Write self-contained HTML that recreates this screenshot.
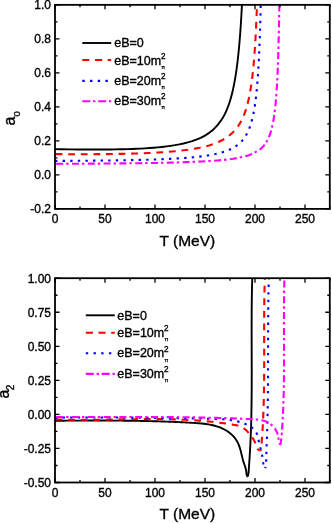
<!DOCTYPE html>
<html><head><meta charset="utf-8"><style>
html,body{margin:0;padding:0;background:#fff;width:332px;height:523px;overflow:hidden}
svg{display:block;will-change:transform}
text{font-family:"Liberation Sans", sans-serif;fill:#000;stroke:#000;stroke-width:0.35px}
</style></head><body>
<svg width="332" height="523" viewBox="0 0 332 523">

<clipPath id="c4"><rect x="55.0" y="4.85" width="274.8" height="204.05"/></clipPath>
<g clip-path="url(#c4)" fill="none" stroke-linejoin="round">
<path d="M55.00,149.17 L59.28,149.24 L63.57,149.31 L67.85,149.37 L72.13,149.42 L76.42,149.47 L80.70,149.51 L84.98,149.54 L89.27,149.55 L93.55,149.56 L97.83,149.56 L102.12,149.54 L106.40,149.51 L110.68,149.47 L114.96,149.40 L119.25,149.32 L123.53,149.23 L127.81,149.10 L132.10,148.96 L136.38,148.78 L140.66,148.58 L144.95,148.34 L149.23,148.06 L153.51,147.74 L157.80,147.36 L162.08,146.93 L166.36,146.43 L170.65,145.85 L174.93,145.18 L179.21,144.40 L183.50,143.48 L187.78,142.41 L192.06,141.14 L196.35,139.63 L200.63,137.81 L204.91,135.59 L209.20,132.84 L213.48,129.39 L217.76,124.93 L222.04,119.00 L222.38,118.45 L222.72,117.89 L223.06,117.30 L223.40,116.71 L223.74,116.10 L224.08,115.47 L224.42,114.82 L224.76,114.15 L225.10,113.47 L225.43,112.77 L225.77,112.04 L226.11,111.30 L226.45,110.53 L226.79,109.74 L227.13,108.92 L227.47,108.08 L227.81,107.21 L228.15,106.32 L228.49,105.39 L228.82,104.44 L229.16,103.45 L229.50,102.43 L229.84,101.37 L230.18,100.28 L230.52,99.15 L230.86,97.98 L231.20,96.76 L231.54,95.50 L231.88,94.19 L232.21,92.83 L232.55,91.41 L232.89,89.94 L233.23,88.41 L233.57,86.81 L233.91,85.15 L234.25,83.41 L234.59,81.60 L234.93,79.70 L235.27,77.71 L235.60,75.64 L235.94,73.46 L236.28,71.17 L236.62,68.76 L236.96,66.23 L237.30,63.57 L237.64,60.76 L237.98,57.79 L238.32,54.66 L238.65,51.33 L238.99,47.80 L239.33,44.05 L239.67,40.06 L240.01,35.81 L240.35,31.26 L240.69,26.38 L241.03,21.15 L241.37,15.51 L241.71,9.43 L242.04,2.85" stroke="#000" stroke-width="1.9"/>
<path d="M55.00,154.12 L59.67,154.15 L64.34,154.17 L69.00,154.19 L73.67,154.21 L78.34,154.21 L83.01,154.21 L87.67,154.21 L92.34,154.19 L97.01,154.17 L101.68,154.14 L106.35,154.09 L111.01,154.04 L115.68,153.97 L120.35,153.89 L125.02,153.80 L129.69,153.69 L134.35,153.56 L139.02,153.41 L143.69,153.24 L148.36,153.04 L153.02,152.82 L157.69,152.56 L162.36,152.27 L167.03,151.94 L171.70,151.56 L176.36,151.13 L181.03,150.63 L185.70,150.06 L190.37,149.40 L195.03,148.64 L199.70,147.74 L204.37,146.68 L209.04,145.42 L213.71,143.90 L218.37,142.05 L223.04,139.74 L227.71,136.79 L232.38,132.93 L237.04,127.64 L237.38,127.18 L237.72,126.71 L238.06,126.22 L238.40,125.73 L238.74,125.21 L239.08,124.68 L239.42,124.14 L239.76,123.58 L240.10,123.00 L240.43,122.41 L240.77,121.80 L241.11,121.17 L241.45,120.51 L241.79,119.84 L242.13,119.15 L242.47,118.43 L242.81,117.68 L243.15,116.92 L243.49,116.12 L243.82,115.30 L244.16,114.44 L244.50,113.55 L244.84,112.63 L245.18,111.68 L245.52,110.68 L245.86,109.65 L246.20,108.57 L246.54,107.45 L246.88,106.28 L247.21,105.06 L247.55,103.78 L247.89,102.44 L248.23,101.04 L248.57,99.57 L248.91,98.03 L249.25,96.42 L249.59,94.71 L249.93,92.92 L250.27,91.03 L250.60,89.02 L250.94,86.91 L251.28,84.66 L251.62,82.27 L251.96,79.73 L252.30,77.02 L252.64,74.12 L252.98,71.02 L253.32,67.68 L253.65,64.09 L253.99,60.20 L254.33,55.99 L254.67,51.41 L255.01,46.40 L255.35,40.91 L255.69,34.86 L256.03,28.16 L256.37,20.69 L256.71,12.31 L257.04,2.85" stroke="#ff0000" stroke-width="2.1" stroke-dasharray="6.8 5.8" stroke-dashoffset="12.0"/>
<path d="M55.00,160.91 L59.76,160.89 L64.53,160.86 L69.29,160.84 L74.05,160.81 L78.82,160.78 L83.58,160.74 L88.34,160.70 L93.11,160.66 L97.87,160.61 L102.63,160.56 L107.40,160.50 L112.16,160.44 L116.92,160.37 L121.69,160.29 L126.45,160.21 L131.21,160.11 L135.98,160.01 L140.74,159.90 L145.50,159.77 L150.27,159.63 L155.03,159.48 L159.79,159.31 L164.56,159.11 L169.32,158.90 L174.08,158.65 L178.85,158.37 L183.61,158.06 L188.37,157.70 L193.14,157.28 L197.90,156.80 L202.66,156.23 L207.43,155.56 L212.19,154.75 L216.95,153.77 L221.71,152.54 L226.48,150.98 L231.24,148.94 L236.00,146.17 L240.77,142.21 L241.11,141.86 L241.45,141.50 L241.78,141.13 L242.12,140.75 L242.46,140.36 L242.80,139.95 L243.14,139.53 L243.48,139.10 L243.82,138.65 L244.16,138.18 L244.50,137.70 L244.84,137.20 L245.17,136.69 L245.51,136.15 L245.85,135.59 L246.19,135.01 L246.53,134.41 L246.87,133.78 L247.21,133.13 L247.55,132.45 L247.89,131.75 L248.23,131.01 L248.56,130.24 L248.90,129.43 L249.24,128.58 L249.58,127.70 L249.92,126.77 L250.26,125.80 L250.60,124.78 L250.94,123.70 L251.28,122.57 L251.62,121.37 L251.95,120.11 L252.29,118.78 L252.63,117.36 L252.97,115.86 L253.31,114.26 L253.65,112.57 L253.99,110.75 L254.33,108.82 L254.67,106.74 L255.01,104.52 L255.34,102.12 L255.68,99.53 L256.02,96.73 L256.36,93.69 L256.70,90.38 L257.04,86.76 L257.38,82.79 L257.72,78.42 L258.06,73.57 L258.40,68.18 L258.73,62.15 L259.07,55.35 L259.41,47.65 L259.75,38.84 L260.09,28.67 L260.43,16.83 L260.77,2.85" stroke="#0000ff" stroke-width="2.1" stroke-dasharray="2.4 5.2" stroke-dashoffset="0"/>
<path d="M55.00,163.84 L60.24,163.82 L65.48,163.79 L70.72,163.77 L75.96,163.74 L81.20,163.71 L86.44,163.68 L91.68,163.65 L96.92,163.61 L102.17,163.57 L107.41,163.53 L112.65,163.48 L117.89,163.43 L123.13,163.38 L128.37,163.32 L133.61,163.26 L138.85,163.19 L144.09,163.11 L149.33,163.03 L154.57,162.94 L159.81,162.84 L165.05,162.73 L170.29,162.61 L175.53,162.47 L180.77,162.32 L186.01,162.15 L191.25,161.96 L196.50,161.74 L201.74,161.49 L206.98,161.20 L212.22,160.87 L217.46,160.47 L222.70,160.00 L227.94,159.43 L233.18,158.73 L238.42,157.85 L243.66,156.72 L248.90,155.20 L254.14,153.07 L259.38,149.88 L259.72,149.62 L260.06,149.36 L260.40,149.08 L260.74,148.79 L261.08,148.49 L261.42,148.19 L261.75,147.87 L262.09,147.54 L262.43,147.20 L262.77,146.85 L263.11,146.48 L263.45,146.10 L263.79,145.70 L264.13,145.29 L264.47,144.86 L264.81,144.42 L265.14,143.95 L265.48,143.47 L265.82,142.96 L266.16,142.43 L266.50,141.88 L266.84,141.30 L267.18,140.69 L267.52,140.06 L267.86,139.39 L268.20,138.69 L268.53,137.95 L268.87,137.17 L269.21,136.34 L269.55,135.47 L269.89,134.55 L270.23,133.58 L270.57,132.54 L270.91,131.44 L271.25,130.26 L271.59,129.01 L271.92,127.66 L272.26,126.22 L272.60,124.67 L272.94,123.00 L273.28,121.19 L273.62,119.23 L273.96,117.10 L274.30,114.77 L274.64,112.22 L274.98,109.42 L275.31,106.32 L275.65,102.87 L275.99,99.02 L276.33,94.69 L276.67,89.79 L277.01,84.20 L277.35,77.77 L277.69,70.30 L278.03,61.51 L278.36,51.03 L278.70,38.34 L279.04,22.67 L279.38,2.85" stroke="#ff00ff" stroke-width="2.1" stroke-dasharray="7 3 2.4 3.4" stroke-dashoffset="14.600000000000001"/>
</g>
<rect x="55.0" y="4.85" width="274.8" height="204.05" fill="none" stroke="#000" stroke-width="1.8"/>
<path d="M55.0,4.85h4.5M329.8,4.85h-4.5M55.0,38.86h4.5M329.8,38.86h-4.5M55.0,72.87h4.5M329.8,72.87h-4.5M55.0,106.87h4.5M329.8,106.87h-4.5M55.0,140.88h4.5M329.8,140.88h-4.5M55.0,174.89h4.5M329.8,174.89h-4.5M55.0,208.90h4.5M329.8,208.90h-4.5M55.0,21.85h2.5M329.8,21.85h-2.5M55.0,55.86h2.5M329.8,55.86h-2.5M55.0,89.87h2.5M329.8,89.87h-2.5M55.0,123.88h2.5M329.8,123.88h-2.5M55.0,157.89h2.5M329.8,157.89h-2.5M55.0,191.90h2.5M329.8,191.90h-2.5M55.00,208.9v-4.5M55.00,4.85v4.5M105.00,208.9v-4.5M105.00,4.85v4.5M155.00,208.9v-4.5M155.00,4.85v4.5M205.00,208.9v-4.5M205.00,4.85v4.5M255.00,208.9v-4.5M255.00,4.85v4.5M305.00,208.9v-4.5M305.00,4.85v4.5M80.00,208.9v-2.5M80.00,4.85v2.5M130.00,208.9v-2.5M130.00,4.85v2.5M180.00,208.9v-2.5M180.00,4.85v2.5M230.00,208.9v-2.5M230.00,4.85v2.5M280.00,208.9v-2.5M280.00,4.85v2.5M330.00,208.9v-2.5M330.00,4.85v2.5" stroke="#000" stroke-width="1.3" fill="none"/>
<text x="51" y="9.15" font-size="12" text-anchor="end">1.0</text>
<text x="51" y="43.16" font-size="12" text-anchor="end">0.8</text>
<text x="51" y="77.17" font-size="12" text-anchor="end">0.6</text>
<text x="51" y="111.17" font-size="12" text-anchor="end">0.4</text>
<text x="51" y="145.18" font-size="12" text-anchor="end">0.2</text>
<text x="51" y="179.19" font-size="12" text-anchor="end">0.0</text>
<text x="51" y="213.20" font-size="12" text-anchor="end">-0.2</text>
<text x="55.00" y="223.10" font-size="12" text-anchor="middle">0</text>
<text x="105.00" y="223.10" font-size="12" text-anchor="middle">50</text>
<text x="155.00" y="223.10" font-size="12" text-anchor="middle">100</text>
<text x="205.00" y="223.10" font-size="12" text-anchor="middle">150</text>
<text x="255.00" y="223.10" font-size="12" text-anchor="middle">200</text>
<text x="305.00" y="223.10" font-size="12" text-anchor="middle">250</text>
<text x="159.5" y="246.3" font-size="15.5">T (MeV)</text>
<text transform="translate(15.0,125.4) rotate(-90)" font-size="16">a<tspan font-size="9.5" dx="0" dy="5">0</tspan></text>
<path d="M82.3,43.0H111.2" stroke="#000" stroke-width="1.9" fill="none"/>
<text x="114.2" y="47.3" font-size="12.5">eB=0</text>
<path d="M82.3,60.0H111.2" stroke="#ff0000" stroke-width="2.1" stroke-dasharray="7.1 5.6" fill="none"/>
<text x="114.2" y="64.5" font-size="12.5">eB=10m</text>
<text x="161.0" y="58.6" font-size="8.2">2</text>
<text x="161.3" y="68.6" font-size="5.6" style="stroke-width:0.25px">π</text>
<path d="M82.3,80.9H111.2" stroke="#0000ff" stroke-width="2.1" stroke-dasharray="2.4 5.3" fill="none"/>
<text x="114.2" y="85.0" font-size="12.5">eB=20m</text>
<text x="161.0" y="79.1" font-size="8.2">2</text>
<text x="161.3" y="89.1" font-size="5.6" style="stroke-width:0.25px">π</text>
<path d="M82.3,101.2H111.2" stroke="#ff00ff" stroke-width="2.1" stroke-dasharray="8 2.8 2.3 2.8" fill="none"/>
<text x="114.2" y="105.2" font-size="12.5">eB=30m</text>
<text x="161.0" y="99.3" font-size="8.2">2</text>
<text x="161.3" y="109.3" font-size="5.6" style="stroke-width:0.25px">π</text>
<clipPath id="c278"><rect x="55.0" y="278.2" width="274.8" height="204.3"/></clipPath>
<g clip-path="url(#c278)" fill="none" stroke-linejoin="round">
<path d="M54.95,420.74 L56.04,420.73 L57.13,420.72 L58.22,420.72 L59.31,420.71 L60.39,420.70 L61.47,420.70 L62.56,420.69 L63.64,420.68 L64.72,420.68 L65.80,420.67 L66.88,420.67 L67.96,420.66 L69.03,420.65 L70.11,420.65 L71.18,420.64 L72.26,420.64 L73.33,420.63 L74.40,420.63 L75.47,420.62 L76.54,420.62 L77.61,420.61 L78.68,420.61 L79.75,420.60 L80.82,420.60 L81.88,420.59 L82.95,420.59 L84.02,420.59 L85.08,420.58 L86.14,420.58 L87.21,420.58 L88.27,420.57 L89.33,420.57 L90.39,420.57 L91.46,420.57 L92.52,420.57 L93.58,420.57 L94.63,420.56 L95.69,420.56 L96.75,420.56 L97.81,420.56 L98.87,420.56 L99.92,420.56 L100.98,420.56 L102.04,420.57 L103.09,420.57 L104.15,420.57 L105.20,420.57 L106.26,420.57 L107.31,420.58 L108.37,420.58 L109.42,420.58 L110.48,420.59 L111.53,420.59 L112.58,420.60 L113.64,420.60 L114.69,420.61 L115.74,420.62 L116.79,420.62 L117.85,420.63 L118.90,420.64 L119.95,420.65 L121.01,420.66 L122.06,420.67 L123.11,420.68 L124.16,420.69 L125.22,420.70 L126.27,420.71 L127.32,420.72 L128.37,420.73 L129.43,420.75 L130.48,420.76 L131.53,420.77 L132.59,420.79 L133.64,420.80 L134.69,420.82 L135.75,420.84 L136.80,420.86 L137.85,420.87 L138.91,420.89 L139.96,420.91 L141.02,420.93 L142.08,420.95 L143.13,420.97 L144.19,421.00 L145.24,421.02 L146.30,421.04 L147.36,421.07 L148.42,421.09 L149.47,421.12 L150.53,421.14 L151.59,421.17 L152.65,421.20 L153.71,421.23 L154.77,421.26 L155.83,421.29 L156.90,421.32 L157.96,421.35 L159.02,421.38 L160.09,421.41 L161.15,421.45 L162.22,421.48 L163.28,421.52 L164.35,421.56 L165.42,421.59 L166.48,421.63 L167.55,421.67 L168.62,421.71 L169.69,421.75 L170.76,421.79 L171.84,421.84 L172.91,421.88 L173.98,421.92 L175.06,421.97 L176.13,422.02 L177.21,422.06 L178.29,422.11 L179.37,422.16 L180.45,422.21 L181.53,422.26 L182.61,422.31 L183.69,422.37 L184.78,422.42 L185.86,422.48 L186.95,422.53 L188.03,422.59 L189.12,422.65 L190.21,422.71 L191.30,422.77 L192.39,422.83 L193.49,422.89 L194.58,422.96 L195.67,423.03 L196.76,423.11 L197.85,423.19 L198.94,423.27 L200.03,423.36 L201.11,423.46 L202.19,423.57 L203.27,423.69 L204.35,423.81 L205.42,423.95 L206.48,424.10 L207.55,424.26 L208.60,424.43 L209.65,424.61 L210.70,424.81 L211.73,425.03 L212.77,425.26 L213.79,425.50 L214.80,425.77 L215.81,426.05 L216.81,426.34 L217.80,426.66 L218.78,427.00 L219.75,427.36 L220.71,427.74 L221.66,428.14 L222.59,428.57 L223.52,429.02 L224.43,429.49 L225.34,429.99 L226.22,430.51 L227.10,431.06 L227.95,431.64 L228.80,432.24 L229.62,432.86 L230.42,433.52 L231.20,434.19 L231.96,434.90 L232.70,435.62 L233.41,436.38 L234.10,437.16 L234.76,437.96 L235.39,438.80 L235.99,439.65 L236.57,440.53 L237.11,441.44 L237.62,442.38 L238.09,443.34 L238.53,444.32 L238.94,445.33 L239.32,446.36 L239.67,447.40 L240.01,448.46 L240.32,449.53 L240.61,450.60 L240.90,451.68 L241.17,452.77 L241.43,453.85 L241.69,454.93 L241.94,456.01 L242.20,457.07 L242.46,458.13 L242.72,459.17 L243.00,460.19 L243.29,461.19 L243.59,462.17 L243.91,463.12 L244.23,464.06 L244.56,465.00 L244.88,465.94 L245.20,466.90 L245.49,467.87 L245.76,468.87 L246.00,469.92 L246.20,471.01 L246.36,472.15 L246.47,473.36 L246.62,474.55 L246.95,475.62 L247.52,476.32 L247.98,475.73 L248.29,474.57 L248.50,473.45 L248.63,472.36 L248.72,471.29 L248.78,470.24 L248.84,469.18 L248.90,468.13 L248.97,467.07 L249.03,466.01 L249.10,464.95 L249.17,463.89 L249.24,462.83 L249.31,461.77 L249.38,460.71 L249.45,459.65 L249.53,458.59 L249.60,457.52 L249.66,456.46 L249.73,455.40 L249.80,454.34 L249.86,453.27 L249.92,452.21 L249.99,451.15 L250.05,450.08 L250.10,449.02 L250.16,447.96 L250.22,446.89 L250.27,445.83 L250.33,444.77 L250.38,443.71 L250.43,442.64 L250.48,441.58 L250.53,440.52 L250.58,439.45 L250.62,438.39 L250.67,437.32 L250.71,436.26 L250.75,435.20 L250.79,434.13 L250.83,433.07 L250.87,432.01 L250.91,430.94 L250.95,429.88 L250.98,428.81 L251.02,427.75 L251.05,426.69 L251.09,425.62 L251.12,424.56 L251.15,423.49 L251.18,422.43 L251.21,421.37 L251.23,420.30 L251.26,419.24 L251.29,418.17 L251.31,417.11 L251.34,416.04 L251.36,414.98 L251.38,413.92 L251.40,412.85 L251.42,411.79 L251.44,410.72 L251.46,409.66 L251.48,408.59 L251.50,407.53 L251.51,406.46 L251.53,405.40 L251.54,404.33 L251.56,403.27 L251.57,402.20 L251.59,401.14 L251.60,400.08 L251.61,399.01 L251.62,397.95 L251.63,396.88 L251.64,395.82 L251.65,394.75 L251.66,393.69 L251.67,392.62 L251.67,391.56 L251.68,390.49 L251.69,389.43 L251.69,388.36 L251.70,387.29 L251.70,386.23 L251.71,385.16 L251.71,384.10 L251.71,383.03 L251.72,381.97 L251.72,380.90 L251.72,379.84 L251.72,378.77 L251.72,377.71 L251.72,376.64 L251.73,375.58 L251.73,374.51 L251.73,373.45 L251.73,372.38 L251.72,371.32 L251.72,370.25 L251.72,369.19 L251.72,368.12 L251.72,367.05 L251.72,365.99 L251.72,364.92 L251.71,363.86 L251.71,362.79 L251.71,361.73 L251.71,360.66 L251.70,359.60 L251.70,358.53 L251.70,357.47 L251.69,356.40 L251.69,355.33 L251.69,354.27 L251.68,353.20 L251.68,352.14 L251.68,351.07 L251.67,350.01 L251.67,348.94 L251.67,347.88 L251.66,346.81 L251.66,345.75 L251.66,344.68 L251.66,343.61 L251.65,342.55 L251.65,341.48 L251.65,340.42 L251.65,339.35 L251.64,338.29 L251.64,337.22 L251.64,336.16 L251.64,335.09 L251.64,334.03 L251.64,332.96 L251.63,331.90 L251.63,330.83 L251.63,329.77 L251.63,328.70 L251.63,327.63 L251.63,326.57 L251.64,325.50 L251.64,324.44 L251.64,323.37 L251.64,322.31 L251.64,321.24 L251.65,320.18 L251.65,319.11 L251.65,318.05 L251.66,316.98 L251.66,315.92 L251.67,314.85 L251.67,313.79 L251.68,312.72 L251.69,311.66 L251.69,310.59 L251.70,309.53 L251.71,308.46 L251.72,307.40 L251.73,306.33 L251.74,305.27 L251.75,304.20 L251.76,303.14 L251.77,302.08 L251.79,301.01 L251.80,299.95 L251.81,298.88 L251.83,297.82 L251.85,296.75 L251.86,295.69 L251.88,294.62 L251.90,293.56 L251.92,292.49 L251.94,291.43 L251.96,290.37 L251.98,289.30 L252.00,288.24 L252.02,287.17 L252.05,286.11 L252.07,285.04 L252.10,283.98 L252.13,282.92 L252.15,281.85 L252.18,280.79 L252.21,279.72 L252.24,278.66 L252.27,277.60 L252.31,276.53" stroke="#000" stroke-width="1.9"/>
<path d="M55.01,419.32 L55.99,419.36 L56.97,419.39 L57.95,419.42 L58.93,419.45 L59.91,419.48 L60.89,419.51 L61.86,419.54 L62.84,419.56 L63.82,419.58 L64.80,419.60 L65.78,419.63 L66.76,419.64 L67.74,419.66 L68.72,419.68 L69.70,419.69 L70.68,419.71 L71.67,419.72 L72.65,419.73 L73.63,419.74 L74.61,419.75 L75.59,419.76 L76.57,419.77 L77.55,419.77 L78.53,419.78 L79.52,419.78 L80.50,419.79 L81.48,419.79 L82.46,419.79 L83.44,419.79 L84.43,419.79 L85.41,419.79 L86.39,419.78 L87.37,419.78 L88.36,419.78 L89.34,419.77 L90.32,419.77 L91.31,419.76 L92.29,419.75 L93.27,419.75 L94.26,419.74 L95.24,419.73 L96.22,419.72 L97.21,419.71 L98.19,419.70 L99.17,419.69 L100.16,419.68 L101.14,419.67 L102.13,419.66 L103.11,419.64 L104.09,419.63 L105.08,419.62 L106.06,419.60 L107.05,419.59 L108.03,419.58 L109.01,419.56 L110.00,419.55 L110.98,419.53 L111.97,419.52 L112.95,419.50 L113.94,419.49 L114.92,419.47 L115.91,419.46 L116.89,419.44 L117.88,419.43 L118.86,419.41 L119.84,419.40 L120.83,419.38 L121.81,419.37 L122.80,419.35 L123.78,419.34 L124.77,419.32 L125.75,419.31 L126.74,419.30 L127.72,419.28 L128.71,419.27 L129.69,419.26 L130.68,419.24 L131.66,419.23 L132.65,419.22 L133.63,419.21 L134.62,419.19 L135.60,419.18 L136.58,419.17 L137.57,419.16 L138.55,419.15 L139.54,419.14 L140.52,419.14 L141.51,419.13 L142.49,419.12 L143.48,419.12 L144.46,419.11 L145.45,419.10 L146.43,419.10 L147.41,419.10 L148.40,419.09 L149.38,419.09 L150.37,419.09 L151.35,419.09 L152.33,419.09 L153.32,419.09 L154.30,419.10 L155.29,419.10 L156.27,419.10 L157.25,419.11 L158.24,419.12 L159.22,419.12 L160.20,419.13 L161.19,419.14 L162.17,419.15 L163.15,419.16 L164.14,419.18 L165.12,419.19 L166.10,419.21 L167.08,419.22 L168.07,419.24 L169.05,419.26 L170.03,419.28 L171.01,419.31 L172.00,419.33 L172.98,419.35 L173.96,419.38 L174.94,419.41 L175.92,419.44 L176.91,419.47 L177.89,419.50 L178.87,419.54 L179.85,419.57 L180.83,419.61 L181.81,419.65 L182.79,419.69 L183.77,419.73 L184.75,419.78 L185.73,419.82 L186.71,419.87 L187.69,419.92 L188.67,419.97 L189.65,420.02 L190.63,420.08 L191.61,420.14 L192.59,420.20 L193.57,420.26 L194.55,420.32 L195.53,420.38 L196.51,420.45 L197.48,420.52 L198.46,420.59 L199.44,420.67 L200.42,420.74 L201.40,420.82 L202.37,420.90 L203.35,420.98 L204.33,421.06 L205.30,421.15 L206.28,421.24 L207.26,421.33 L208.23,421.42 L209.21,421.52 L210.19,421.62 L211.16,421.72 L212.14,421.82 L213.11,421.93 L214.09,422.03 L215.06,422.14 L216.04,422.26 L217.01,422.37 L217.98,422.49 L218.96,422.61 L219.93,422.74 L220.90,422.86 L221.88,422.99 L222.85,423.12 L223.82,423.26 L224.80,423.39 L225.77,423.53 L226.74,423.68 L227.71,423.82 L228.68,423.97 L229.65,424.12 L230.62,424.28 L231.59,424.43 L232.56,424.59 L233.53,424.76 L234.50,424.93 L235.47,425.11 L236.42,425.32 L237.37,425.54 L238.31,425.80 L239.24,426.08 L240.15,426.41 L241.05,426.78 L241.93,427.19 L242.80,427.67 L243.64,428.19 L244.45,428.78 L245.25,429.43 L246.02,430.12 L246.76,430.84 L247.49,431.60 L248.18,432.37 L248.86,433.15 L249.51,433.93 L250.14,434.71 L250.74,435.47 L251.32,436.21 L251.88,436.95 L252.41,437.68 L252.92,438.43 L253.40,439.20 L253.86,440.00 L254.29,440.83 L254.70,441.71 L255.09,442.65 L255.45,443.65 L255.79,444.70 L256.14,445.79 L256.51,446.85 L256.93,447.85 L257.43,448.74 L258.02,449.48 L258.74,450.04 L259.53,450.33" stroke="#ff0000" stroke-width="2.1" stroke-dasharray="6.8 5.8" stroke-dashoffset="12.0"/>
<path d="M264.89,276.49 L264.85,277.46 L264.82,278.43 L264.79,279.40 L264.75,280.38 L264.72,281.35 L264.69,282.32 L264.67,283.29 L264.64,284.27 L264.61,285.24 L264.59,286.22 L264.56,287.19 L264.54,288.17 L264.51,289.14 L264.49,290.12 L264.47,291.09 L264.45,292.07 L264.43,293.05 L264.41,294.03 L264.39,295.00 L264.37,295.98 L264.36,296.96 L264.34,297.94 L264.33,298.92 L264.31,299.90 L264.30,300.88 L264.29,301.86 L264.27,302.84 L264.26,303.82 L264.25,304.80 L264.24,305.79 L264.23,306.77 L264.22,307.75 L264.21,308.73 L264.20,309.72 L264.20,310.70 L264.19,311.68 L264.18,312.67 L264.18,313.65 L264.17,314.63 L264.17,315.62 L264.16,316.60 L264.16,317.59 L264.16,318.57 L264.15,319.56 L264.15,320.54 L264.15,321.53 L264.14,322.52 L264.14,323.50 L264.14,324.49 L264.14,325.48 L264.14,326.46 L264.14,327.45 L264.14,328.44 L264.14,329.42 L264.14,330.41 L264.14,331.40 L264.14,332.39 L264.14,333.37 L264.14,334.36 L264.14,335.35 L264.14,336.34 L264.14,337.33 L264.15,338.31 L264.15,339.30 L264.15,340.29 L264.15,341.28 L264.15,342.27 L264.15,343.26 L264.16,344.24 L264.16,345.23 L264.16,346.22 L264.16,347.21 L264.16,348.20 L264.16,349.19 L264.17,350.18 L264.17,351.16 L264.17,352.15 L264.17,353.14 L264.17,354.13 L264.17,355.12 L264.17,356.11 L264.17,357.10 L264.17,358.08 L264.17,359.07 L264.17,360.06 L264.17,361.05 L264.17,362.04 L264.17,363.03 L264.17,364.01 L264.17,365.00 L264.16,365.99 L264.16,366.98 L264.16,367.97 L264.16,368.95 L264.15,369.94 L264.15,370.93 L264.14,371.91 L264.14,372.90 L264.13,373.89 L264.13,374.88 L264.12,375.86 L264.11,376.85 L264.11,377.83 L264.10,378.82 L264.09,379.81 L264.08,380.79 L264.07,381.78 L264.06,382.76 L264.05,383.75 L264.04,384.73 L264.03,385.72 L264.02,386.70 L264.00,387.68 L263.99,388.67 L263.97,389.65 L263.96,390.63 L263.94,391.62 L263.92,392.60 L263.91,393.58 L263.89,394.56 L263.87,395.55 L263.85,396.53 L263.83,397.51 L263.81,398.49 L263.78,399.47 L263.76,400.45 L263.73,401.43 L263.71,402.41 L263.68,403.39 L263.65,404.37 L263.63,405.34 L263.60,406.32 L263.57,407.30 L263.53,408.28 L263.50,409.25 L263.47,410.23 L263.43,411.21 L263.40,412.18 L263.36,413.16 L263.32,414.13 L263.29,415.11 L263.25,416.08 L263.20,417.05 L263.16,418.03 L263.12,419.00 L263.07,419.97 L263.03,420.94 L262.98,421.91 L262.93,422.88 L262.88,423.85 L262.83,424.82 L262.78,425.79 L262.72,426.76 L262.67,427.73 L262.61,428.70 L262.56,429.66 L262.50,430.63 L262.44,431.60 L262.37,432.56 L262.31,433.53 L262.25,434.49 L262.18,435.45 L262.11,436.42 L262.04,437.38 L261.97,438.34 L261.90,439.30 L261.83,440.27 L261.76,441.26 L261.71,442.31 L261.69,443.44 L261.69,444.65 L261.68,445.90 L261.63,447.11 L261.49,448.22 L261.25,449.17 L260.85,449.87 L260.26,450.28 L259.53,450.33" stroke="#ff0000" stroke-width="2.1" stroke-dasharray="6.8 5.8" stroke-dashoffset="3.4"/>
<path d="M54.98,417.63 L56.08,417.63 L57.17,417.62 L58.26,417.61 L59.36,417.60 L60.45,417.59 L61.54,417.59 L62.63,417.58 L63.73,417.57 L64.82,417.57 L65.91,417.56 L67.00,417.56 L68.09,417.55 L69.18,417.54 L70.27,417.54 L71.36,417.53 L72.45,417.53 L73.54,417.52 L74.63,417.52 L75.72,417.52 L76.81,417.51 L77.90,417.51 L78.99,417.50 L80.08,417.50 L81.17,417.50 L82.25,417.50 L83.34,417.49 L84.43,417.49 L85.52,417.49 L86.61,417.49 L87.69,417.49 L88.78,417.48 L89.87,417.48 L90.95,417.48 L92.04,417.48 L93.13,417.48 L94.21,417.48 L95.30,417.48 L96.38,417.48 L97.47,417.48 L98.55,417.48 L99.64,417.48 L100.73,417.48 L101.81,417.48 L102.90,417.49 L103.98,417.49 L105.07,417.49 L106.15,417.49 L107.24,417.49 L108.32,417.50 L109.41,417.50 L110.49,417.50 L111.57,417.51 L112.66,417.51 L113.74,417.51 L114.83,417.52 L115.91,417.52 L117.00,417.53 L118.08,417.53 L119.16,417.54 L120.25,417.54 L121.33,417.55 L122.42,417.55 L123.50,417.56 L124.58,417.56 L125.67,417.57 L126.75,417.58 L127.83,417.58 L128.92,417.59 L130.00,417.60 L131.09,417.61 L132.17,417.61 L133.25,417.62 L134.34,417.63 L135.42,417.64 L136.51,417.65 L137.59,417.65 L138.67,417.66 L139.76,417.67 L140.84,417.68 L141.93,417.69 L143.01,417.70 L144.09,417.71 L145.18,417.72 L146.26,417.73 L147.35,417.74 L148.43,417.75 L149.52,417.77 L150.60,417.78 L151.69,417.79 L152.77,417.80 L153.86,417.81 L154.94,417.83 L156.03,417.84 L157.11,417.85 L158.20,417.86 L159.28,417.88 L160.37,417.89 L161.46,417.90 L162.54,417.92 L163.63,417.93 L164.72,417.95 L165.80,417.96 L166.89,417.98 L167.98,417.99 L169.06,418.01 L170.15,418.02 L171.24,418.04 L172.33,418.05 L173.41,418.07 L174.50,418.09 L175.59,418.10 L176.68,418.12 L177.77,418.14 L178.85,418.15 L179.94,418.17 L181.03,418.19 L182.12,418.21 L183.21,418.23 L184.30,418.24 L185.39,418.26 L186.48,418.28 L187.57,418.30 L188.66,418.32 L189.76,418.34 L190.85,418.36 L191.94,418.38 L193.03,418.40 L194.12,418.42 L195.22,418.44 L196.31,418.46 L197.40,418.48 L198.50,418.50 L199.59,418.53 L200.68,418.55 L201.78,418.57 L202.87,418.59 L203.97,418.61 L205.06,418.64 L206.16,418.66 L207.25,418.68 L208.35,418.71 L209.45,418.73 L210.54,418.75 L211.64,418.78 L212.74,418.80 L213.84,418.83 L214.93,418.86 L216.03,418.90 L217.13,418.93 L218.22,418.98 L219.31,419.02 L220.41,419.08 L221.50,419.14 L222.59,419.21 L223.67,419.28 L224.76,419.37 L225.84,419.47 L226.92,419.57 L228.00,419.69 L229.07,419.82 L230.14,419.96 L231.21,420.12 L232.28,420.29 L233.34,420.47 L234.39,420.67 L235.44,420.89 L236.49,421.12 L237.54,421.37 L238.58,421.64 L239.61,421.93 L240.64,422.24 L241.66,422.57 L242.68,422.92 L243.69,423.29 L244.70,423.68 L245.70,424.10 L246.69,424.54 L247.67,425.01 L248.64,425.51 L249.58,426.03 L250.50,426.60 L251.38,427.20 L252.23,427.83 L253.04,428.51 L253.81,429.24 L254.52,430.00 L255.18,430.82 L255.78,431.69 L256.31,432.61 L256.77,433.58 L257.17,434.61 L257.51,435.69 L257.81,436.79 L258.08,437.92 L258.33,439.06 L258.57,440.21 L258.82,441.35 L259.07,442.48 L259.34,443.60 L259.61,444.70 L259.89,445.79 L260.17,446.87 L260.44,447.93 L260.71,448.98 L260.97,450.02 L261.23,451.04 L261.47,452.05 L261.69,453.04 L261.89,454.01 L262.08,454.97 L262.23,455.91 L262.37,456.84 L262.50,457.79 L262.62,458.77 L262.76,459.80 L262.92,460.90 L263.11,462.10 L263.35,463.41 L263.64,464.76 L263.97,466.06 L264.36,467.21 L264.79,468.03 L265.16,468.06" stroke="#0000ff" stroke-width="2.1" stroke-dasharray="2.4 5.2" stroke-dashoffset="0"/>
<path d="M268.88,276.55 L268.85,277.65 L268.82,278.74 L268.79,279.84 L268.76,280.94 L268.73,282.03 L268.70,283.13 L268.67,284.22 L268.65,285.32 L268.62,286.41 L268.60,287.51 L268.57,288.60 L268.55,289.70 L268.52,290.79 L268.50,291.88 L268.48,292.98 L268.46,294.07 L268.44,295.16 L268.42,296.25 L268.40,297.35 L268.39,298.44 L268.37,299.53 L268.35,300.62 L268.34,301.71 L268.32,302.80 L268.31,303.89 L268.29,304.98 L268.28,306.07 L268.27,307.16 L268.25,308.25 L268.24,309.34 L268.23,310.43 L268.22,311.52 L268.21,312.60 L268.20,313.69 L268.19,314.78 L268.18,315.87 L268.17,316.95 L268.16,318.04 L268.16,319.13 L268.15,320.22 L268.14,321.30 L268.14,322.39 L268.13,323.48 L268.12,324.56 L268.12,325.65 L268.11,326.73 L268.11,327.82 L268.10,328.91 L268.10,329.99 L268.10,331.08 L268.09,332.16 L268.09,333.25 L268.09,334.33 L268.08,335.42 L268.08,336.50 L268.08,337.59 L268.07,338.67 L268.07,339.75 L268.07,340.84 L268.07,341.92 L268.07,343.01 L268.07,344.09 L268.06,345.18 L268.06,346.26 L268.06,347.34 L268.06,348.43 L268.06,349.51 L268.06,350.59 L268.06,351.68 L268.05,352.76 L268.05,353.84 L268.05,354.93 L268.05,356.01 L268.05,357.09 L268.05,358.18 L268.05,359.26 L268.05,360.34 L268.04,361.43 L268.04,362.51 L268.04,363.59 L268.04,364.68 L268.04,365.76 L268.04,366.84 L268.03,367.93 L268.03,369.01 L268.03,370.09 L268.02,371.17 L268.02,372.26 L268.02,373.34 L268.01,374.42 L268.01,375.51 L268.01,376.59 L268.00,377.68 L268.00,378.76 L267.99,379.84 L267.99,380.93 L267.98,382.01 L267.98,383.09 L267.97,384.18 L267.96,385.26 L267.96,386.35 L267.95,387.43 L267.94,388.51 L267.93,389.60 L267.92,390.68 L267.91,391.77 L267.90,392.85 L267.89,393.94 L267.88,395.02 L267.87,396.11 L267.86,397.19 L267.85,398.28 L267.84,399.36 L267.82,400.45 L267.81,401.53 L267.79,402.62 L267.78,403.70 L267.76,404.79 L267.75,405.88 L267.73,406.96 L267.71,408.05 L267.69,409.14 L267.67,410.22 L267.65,411.31 L267.63,412.40 L267.61,413.49 L267.59,414.57 L267.57,415.66 L267.55,416.75 L267.52,417.84 L267.50,418.93 L267.47,420.02 L267.44,421.11 L267.42,422.20 L267.39,423.28 L267.36,424.37 L267.33,425.46 L267.30,426.56 L267.27,427.65 L267.24,428.74 L267.20,429.83 L267.17,430.92 L267.13,432.01 L267.10,433.10 L267.06,434.20 L267.02,435.29 L266.98,436.38 L266.94,437.47 L266.90,438.57 L266.86,439.66 L266.82,440.75 L266.77,441.85 L266.73,442.94 L266.68,444.04 L266.63,445.13 L266.59,446.23 L266.54,447.32 L266.49,448.40 L266.45,449.48 L266.42,450.54 L266.39,451.59 L266.37,452.63 L266.36,453.64 L266.35,454.65 L266.34,455.66 L266.33,456.68 L266.31,457.71 L266.28,458.76 L266.24,459.84 L266.17,460.96 L266.09,462.12 L265.98,463.33 L265.84,464.59 L265.66,465.93 L265.45,467.21 L265.16,468.06" stroke="#0000ff" stroke-width="2.1" stroke-dasharray="2.4 5.2" stroke-dashoffset="7.2"/>
<path d="M54.98,416.98 L56.01,416.98 L57.03,416.99 L58.06,416.99 L59.09,417.00 L60.12,417.01 L61.14,417.01 L62.17,417.01 L63.20,417.02 L64.22,417.02 L65.25,417.03 L66.27,417.03 L67.30,417.03 L68.33,417.04 L69.35,417.04 L70.38,417.04 L71.40,417.05 L72.43,417.05 L73.45,417.05 L74.48,417.05 L75.51,417.05 L76.53,417.06 L77.56,417.06 L78.58,417.06 L79.60,417.06 L80.63,417.06 L81.65,417.06 L82.68,417.06 L83.70,417.06 L84.73,417.06 L85.75,417.06 L86.78,417.06 L87.80,417.06 L88.82,417.06 L89.85,417.06 L90.87,417.06 L91.89,417.06 L92.92,417.06 L93.94,417.06 L94.97,417.06 L95.99,417.06 L97.01,417.06 L98.04,417.06 L99.06,417.05 L100.08,417.05 L101.10,417.05 L102.13,417.05 L103.15,417.05 L104.17,417.05 L105.20,417.05 L106.22,417.05 L107.24,417.04 L108.26,417.04 L109.29,417.04 L110.31,417.04 L111.33,417.04 L112.35,417.04 L113.38,417.03 L114.40,417.03 L115.42,417.03 L116.44,417.03 L117.46,417.03 L118.49,417.03 L119.51,417.03 L120.53,417.03 L121.55,417.02 L122.57,417.02 L123.60,417.02 L124.62,417.02 L125.64,417.02 L126.66,417.02 L127.68,417.02 L128.70,417.02 L129.73,417.02 L130.75,417.02 L131.77,417.02 L132.79,417.02 L133.81,417.02 L134.83,417.02 L135.86,417.02 L136.88,417.02 L137.90,417.02 L138.92,417.02 L139.94,417.02 L140.96,417.02 L141.99,417.02 L143.01,417.02 L144.03,417.02 L145.05,417.02 L146.07,417.03 L147.09,417.03 L148.11,417.03 L149.14,417.03 L150.16,417.03 L151.18,417.04 L152.20,417.04 L153.22,417.04 L154.24,417.05 L155.27,417.05 L156.29,417.05 L157.31,417.06 L158.33,417.06 L159.35,417.07 L160.37,417.07 L161.39,417.08 L162.42,417.08 L163.44,417.09 L164.46,417.09 L165.48,417.10 L166.50,417.11 L167.53,417.11 L168.55,417.12 L169.57,417.13 L170.59,417.13 L171.61,417.14 L172.64,417.15 L173.66,417.16 L174.68,417.17 L175.70,417.18 L176.72,417.19 L177.75,417.20 L178.77,417.21 L179.79,417.22 L180.81,417.23 L181.84,417.24 L182.86,417.25 L183.88,417.26 L184.90,417.28 L185.93,417.29 L186.95,417.30 L187.97,417.32 L188.99,417.33 L190.02,417.35 L191.04,417.36 L192.06,417.38 L193.09,417.39 L194.11,417.41 L195.13,417.42 L196.16,417.44 L197.18,417.46 L198.20,417.48 L199.23,417.50 L200.25,417.51 L201.28,417.53 L202.30,417.55 L203.32,417.57 L204.35,417.60 L205.37,417.62 L206.40,417.64 L207.42,417.66 L208.44,417.68 L209.47,417.71 L210.49,417.73 L211.52,417.76 L212.54,417.78 L213.57,417.81 L214.59,417.83 L215.62,417.86 L216.64,417.89 L217.67,417.91 L218.69,417.94 L219.72,417.97 L220.75,418.00 L221.77,418.03 L222.80,418.06 L223.82,418.09 L224.85,418.12 L225.88,418.15 L226.90,418.19 L227.93,418.22 L228.96,418.26 L229.98,418.29 L231.01,418.33 L232.04,418.36 L233.06,418.40 L234.09,418.44 L235.12,418.47 L236.15,418.51 L237.17,418.55 L238.20,418.59 L239.23,418.63 L240.26,418.67 L241.29,418.72 L242.32,418.76 L243.34,418.80 L244.37,418.85 L245.40,418.89 L246.43,418.94 L247.46,418.98 L248.49,419.03 L249.52,419.08 L250.55,419.12 L251.58,419.17 L252.61,419.22 L253.64,419.28 L254.66,419.34 L255.68,419.42 L256.70,419.51 L257.71,419.61 L258.72,419.73 L259.72,419.88 L260.71,420.04 L261.69,420.24 L262.66,420.47 L263.61,420.73 L264.56,421.02 L265.49,421.35 L266.41,421.73 L267.31,422.15 L268.19,422.61 L269.05,423.13 L269.89,423.68 L270.71,424.28 L271.50,424.92 L272.26,425.60 L272.99,426.33 L273.68,427.09 L274.34,427.89 L274.95,428.72 L275.53,429.59 L276.06,430.50 L276.54,431.44 L276.97,432.41 L277.35,433.41 L277.67,434.44 L277.95,435.49 L278.18,436.57 L278.38,437.65 L278.56,438.73 L278.75,439.81 L278.94,440.87 L279.16,441.90 L279.42,442.89 L279.72,443.84 L280.06,444.54" stroke="#ff00ff" stroke-width="2.1" stroke-dasharray="7 3 2.4 3.4" stroke-dashoffset="14.600000000000001"/>
<path d="M284.49,276.51 L284.45,277.52 L284.42,278.53 L284.39,279.54 L284.37,280.55 L284.34,281.56 L284.31,282.57 L284.29,283.59 L284.26,284.60 L284.24,285.61 L284.22,286.63 L284.20,287.64 L284.18,288.66 L284.16,289.67 L284.14,290.69 L284.12,291.71 L284.11,292.73 L284.09,293.74 L284.08,294.76 L284.06,295.78 L284.05,296.80 L284.04,297.82 L284.03,298.84 L284.02,299.86 L284.01,300.88 L284.00,301.91 L283.99,302.93 L283.98,303.95 L283.97,304.97 L283.97,306.00 L283.96,307.02 L283.96,308.04 L283.95,309.07 L283.95,310.09 L283.94,311.12 L283.94,312.14 L283.94,313.17 L283.93,314.19 L283.93,315.22 L283.93,316.24 L283.93,317.27 L283.93,318.30 L283.93,319.33 L283.93,320.35 L283.93,321.38 L283.93,322.41 L283.93,323.44 L283.93,324.46 L283.93,325.49 L283.94,326.52 L283.94,327.55 L283.94,328.58 L283.94,329.61 L283.95,330.64 L283.95,331.67 L283.95,332.70 L283.96,333.73 L283.96,334.76 L283.96,335.79 L283.97,336.82 L283.97,337.85 L283.97,338.88 L283.98,339.91 L283.98,340.94 L283.98,341.97 L283.99,343.00 L283.99,344.03 L283.99,345.06 L284.00,346.09 L284.00,347.12 L284.00,348.15 L284.00,349.18 L284.01,350.21 L284.01,351.24 L284.01,352.27 L284.01,353.30 L284.01,354.33 L284.01,355.36 L284.02,356.39 L284.02,357.43 L284.02,358.46 L284.02,359.49 L284.02,360.52 L284.01,361.55 L284.01,362.57 L284.01,363.60 L284.01,364.63 L284.01,365.66 L284.00,366.69 L284.00,367.72 L284.00,368.75 L283.99,369.78 L283.99,370.81 L283.98,371.84 L283.97,372.86 L283.97,373.89 L283.96,374.92 L283.95,375.95 L283.94,376.97 L283.93,378.00 L283.92,379.03 L283.91,380.05 L283.90,381.08 L283.88,382.11 L283.87,383.13 L283.86,384.16 L283.84,385.18 L283.83,386.21 L283.81,387.23 L283.79,388.25 L283.77,389.28 L283.75,390.30 L283.73,391.32 L283.71,392.34 L283.69,393.37 L283.66,394.39 L283.64,395.41 L283.61,396.43 L283.59,397.45 L283.56,398.47 L283.53,399.49 L283.50,400.51 L283.47,401.53 L283.44,402.55 L283.40,403.56 L283.37,404.58 L283.33,405.60 L283.29,406.61 L283.26,407.63 L283.22,408.64 L283.18,409.66 L283.13,410.67 L283.09,411.69 L283.04,412.70 L283.00,413.71 L282.95,414.72 L282.90,415.74 L282.85,416.75 L282.80,417.76 L282.75,418.77 L282.69,419.77 L282.63,420.78 L282.58,421.79 L282.52,422.80 L282.46,423.80 L282.39,424.81 L282.33,425.81 L282.26,426.82 L282.20,427.82 L282.13,428.82 L282.06,429.83 L281.98,430.83 L281.91,431.83 L281.83,432.83 L281.76,433.83 L281.67,434.83 L281.58,435.85 L281.49,436.88 L281.38,437.94 L281.26,439.03 L281.12,440.15 L280.97,441.32 L280.80,442.54 L280.60,443.72 L280.36,444.51 L280.06,444.54" stroke="#ff00ff" stroke-width="2.1" stroke-dasharray="7 3 2.4 3.4" stroke-dashoffset="11.8"/>
</g>
<rect x="55.0" y="278.2" width="274.8" height="204.3" fill="none" stroke="#000" stroke-width="1.8"/>
<path d="M55.0,278.20h4.5M329.8,278.20h-4.5M55.0,312.25h4.5M329.8,312.25h-4.5M55.0,346.30h4.5M329.8,346.30h-4.5M55.0,380.35h4.5M329.8,380.35h-4.5M55.0,414.40h4.5M329.8,414.40h-4.5M55.0,448.45h4.5M329.8,448.45h-4.5M55.0,482.50h4.5M329.8,482.50h-4.5M55.0,295.23h2.5M329.8,295.23h-2.5M55.0,329.27h2.5M329.8,329.27h-2.5M55.0,363.32h2.5M329.8,363.32h-2.5M55.0,397.38h2.5M329.8,397.38h-2.5M55.0,431.43h2.5M329.8,431.43h-2.5M55.0,465.48h2.5M329.8,465.48h-2.5M55.00,482.5v-4.5M55.00,278.2v4.5M105.00,482.5v-4.5M105.00,278.2v4.5M155.00,482.5v-4.5M155.00,278.2v4.5M205.00,482.5v-4.5M205.00,278.2v4.5M255.00,482.5v-4.5M255.00,278.2v4.5M305.00,482.5v-4.5M305.00,278.2v4.5M80.00,482.5v-2.5M80.00,278.2v2.5M130.00,482.5v-2.5M130.00,278.2v2.5M180.00,482.5v-2.5M180.00,278.2v2.5M230.00,482.5v-2.5M230.00,278.2v2.5M280.00,482.5v-2.5M280.00,278.2v2.5M330.00,482.5v-2.5M330.00,278.2v2.5" stroke="#000" stroke-width="1.3" fill="none"/>
<text x="51" y="282.50" font-size="12" text-anchor="end">1.00</text>
<text x="51" y="316.55" font-size="12" text-anchor="end">0.75</text>
<text x="51" y="350.60" font-size="12" text-anchor="end">0.50</text>
<text x="51" y="384.65" font-size="12" text-anchor="end">0.25</text>
<text x="51" y="418.70" font-size="12" text-anchor="end">0.00</text>
<text x="51" y="452.75" font-size="12" text-anchor="end">-0.25</text>
<text x="51" y="486.80" font-size="12" text-anchor="end">-0.50</text>
<text x="55.00" y="496.70" font-size="12" text-anchor="middle">0</text>
<text x="105.00" y="496.70" font-size="12" text-anchor="middle">50</text>
<text x="155.00" y="496.70" font-size="12" text-anchor="middle">100</text>
<text x="205.00" y="496.70" font-size="12" text-anchor="middle">150</text>
<text x="255.00" y="496.70" font-size="12" text-anchor="middle">200</text>
<text x="305.00" y="496.70" font-size="12" text-anchor="middle">250</text>
<text x="159.5" y="519.3" font-size="15.5">T (MeV)</text>
<text transform="translate(9.0,398.6) rotate(-90)" font-size="16">a<tspan font-size="10" dx="-0.5" dy="5">2</tspan></text>
<path d="M85.8,315.3H114.8" stroke="#000" stroke-width="1.9" fill="none"/>
<text x="117.3" y="319.6" font-size="12.5">eB=0</text>
<path d="M85.8,332.8H114.8" stroke="#ff0000" stroke-width="2.1" stroke-dasharray="7.1 5.6" fill="none"/>
<text x="117.3" y="337.0" font-size="12.5">eB=10m</text>
<text x="164.1" y="331.1" font-size="8.2">2</text>
<text x="164.4" y="341.1" font-size="5.6" style="stroke-width:0.25px">π</text>
<path d="M85.8,353.2H114.8" stroke="#0000ff" stroke-width="2.1" stroke-dasharray="2.4 5.3" fill="none"/>
<text x="117.3" y="357.4" font-size="12.5">eB=20m</text>
<text x="164.1" y="351.5" font-size="8.2">2</text>
<text x="164.4" y="361.5" font-size="5.6" style="stroke-width:0.25px">π</text>
<path d="M85.8,373.9H114.8" stroke="#ff00ff" stroke-width="2.1" stroke-dasharray="8 2.8 2.3 2.8" fill="none"/>
<text x="117.3" y="378.0" font-size="12.5">eB=30m</text>
<text x="164.1" y="372.1" font-size="8.2">2</text>
<text x="164.4" y="382.1" font-size="5.6" style="stroke-width:0.25px">π</text>
</svg>
</body></html>
